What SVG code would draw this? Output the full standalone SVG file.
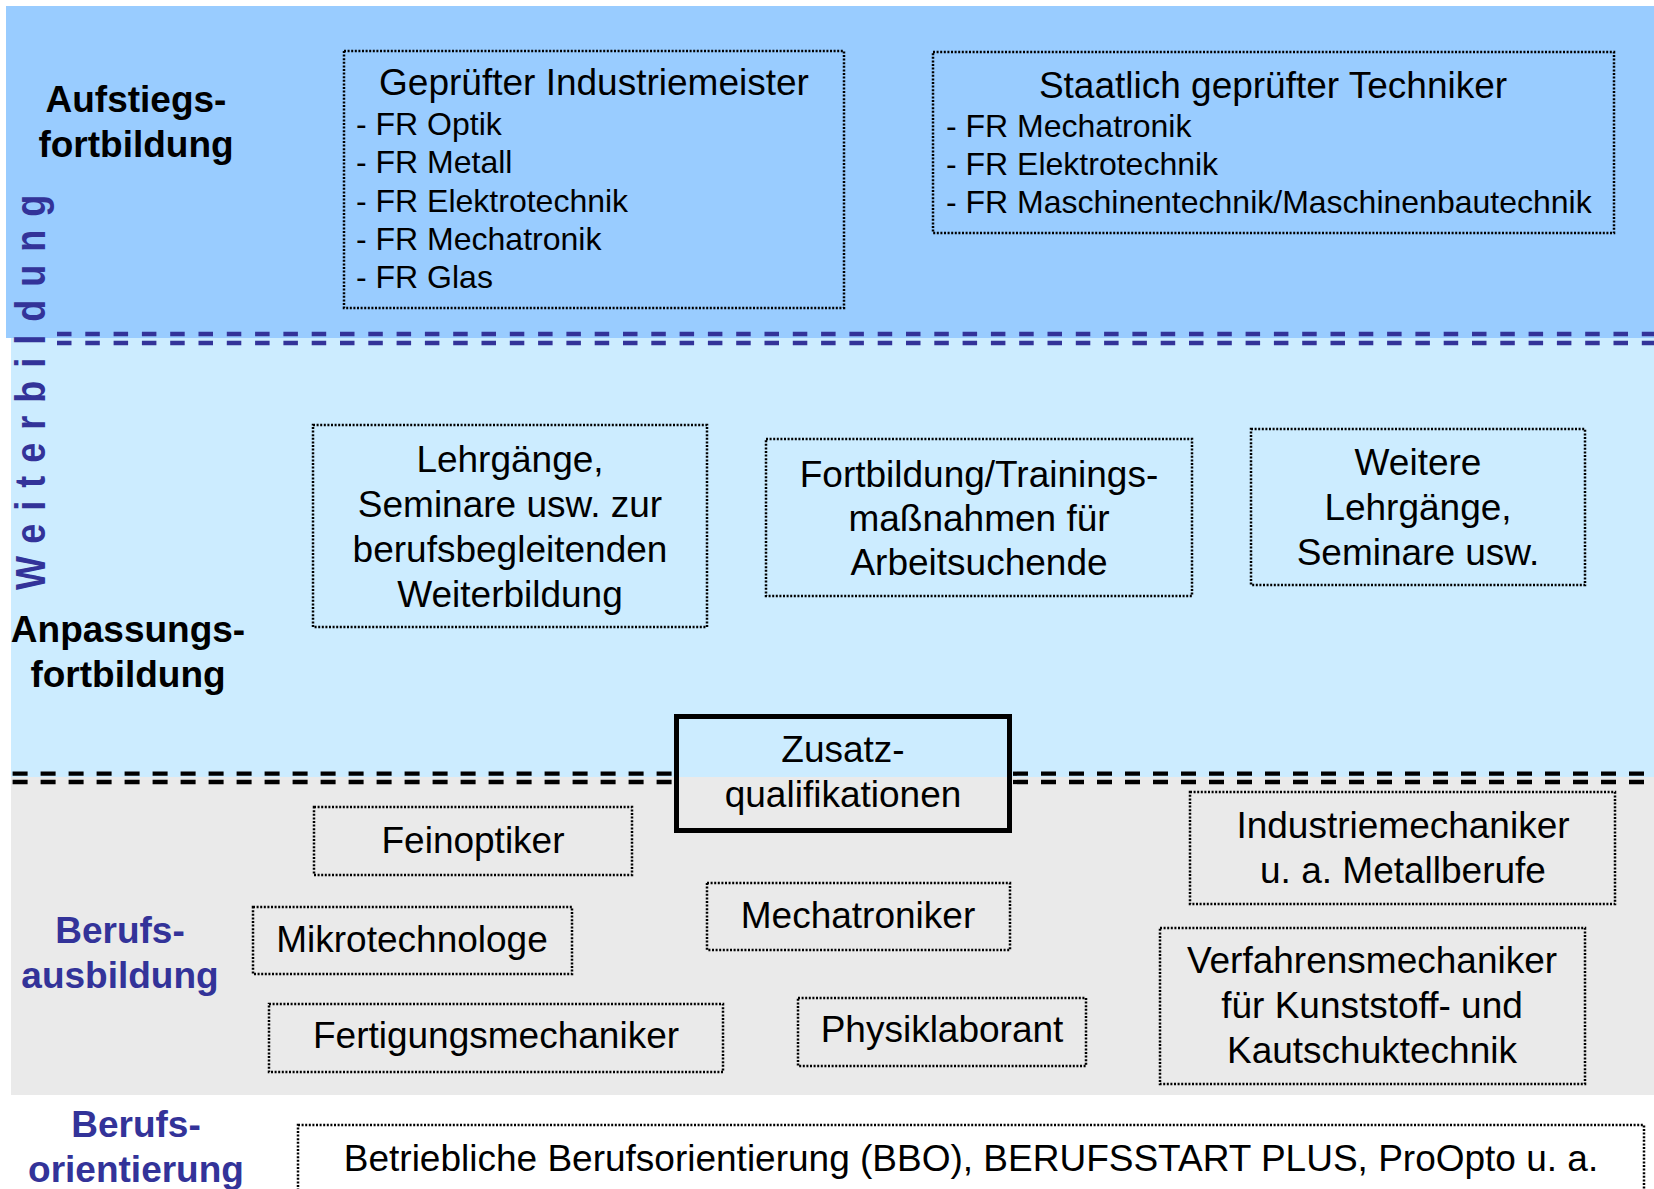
<svg xmlns="http://www.w3.org/2000/svg" width="1654" height="1189" viewBox="0 0 1654 1189">
<style>
text{font-family:"Liberation Sans",Arial,Helvetica,sans-serif;fill:#000}
.t{font-size:37px;text-anchor:middle}
.l{font-size:32px}
.h{font-size:37px;font-weight:bold;text-anchor:middle}
.b{fill:#333399}
.box{fill:none;stroke:#000;stroke-width:2.5;stroke-dasharray:2 1.6}
.sepb{stroke:#333399;stroke-width:4.3;stroke-dasharray:14.5 13.8;fill:none}
.sepk{stroke:#000;stroke-width:4.3;stroke-dasharray:15 13;fill:none}
</style>
<g id="bands">
<rect x="6" y="6" width="1648" height="332" fill="#99CCFF"/>
<rect x="11" y="338" width="1643" height="439" fill="#CCECFF"/>
<rect x="11" y="777" width="1643" height="318" fill="#EAEAEA"/>
</g>
<g id="connectors">
<line class="sepb" x1="57" y1="334" x2="1654" y2="334"/>
<line class="sepb" x1="57" y1="343" x2="1654" y2="343"/>
<line class="sepk" x1="12.6" y1="773.7" x2="674" y2="773.7"/>
<line class="sepk" x1="12.6" y1="782" x2="674" y2="782"/>
<line class="sepk" x1="1013" y1="773.7" x2="1654" y2="773.7"/>
<line class="sepk" x1="1013" y1="782" x2="1654" y2="782"/>
</g>
<g id="labels">
<text class="b" font-size="36" font-weight="bold" letter-spacing="13" transform="translate(45,590) rotate(-90) scale(1,1.16)">Weiterbildung</text>
<text class="h" x="136" y="112">Aufstiegs-</text>
<text class="h" x="136" y="157">fortbildung</text>
<text class="h" x="128" y="642">Anpassungs-</text>
<text class="h" x="128" y="687">fortbildung</text>
<text class="h b" x="120" y="943">Berufs-</text>
<text class="h b" x="120" y="988">ausbildung</text>
<text class="h b" x="136" y="1137">Berufs-</text>
<text class="h b" x="136" y="1182">orientierung</text>
</g>
<g id="industriemeister">
<rect class="box" x="344" y="51" width="500" height="257"/>
<text class="t" x="594" y="95">Geprüfter Industriemeister</text>
<text class="l" x="356" y="135">- FR Optik</text>
<text class="l" x="356" y="173">- FR Metall</text>
<text class="l" x="356" y="212">- FR Elektrotechnik</text>
<text class="l" x="356" y="250">- FR Mechatronik</text>
<text class="l" x="356" y="288">- FR Glas</text>
</g>
<g id="techniker">
<rect class="box" x="933" y="52" width="681" height="181"/>
<text class="t" x="1273" y="98">Staatlich geprüfter Techniker</text>
<text class="l" x="946" y="137">- FR Mechatronik</text>
<text class="l" x="946" y="175">- FR Elektrotechnik</text>
<text class="l" x="946" y="213">- FR Maschinentechnik/Maschinenbautechnik</text>
</g>
<g id="lehrgaenge">
<rect class="box" x="313" y="425" width="394" height="202"/>
<text class="t" x="510" y="472">Lehrgänge,</text>
<text class="t" x="510" y="517">Seminare usw. zur</text>
<text class="t" x="510" y="562">berufsbegleitenden</text>
<text class="t" x="510" y="607">Weiterbildung</text>
</g>
<g id="fortbildung">
<rect class="box" x="766" y="439" width="426" height="157"/>
<text class="t" x="979" y="487">Fortbildung/Trainings-</text>
<text class="t" x="979" y="531">maßnahmen für</text>
<text class="t" x="979" y="575">Arbeitsuchende</text>
</g>
<g id="weitere">
<rect class="box" x="1251" y="429" width="334" height="156"/>
<text class="t" x="1418" y="475">Weitere</text>
<text class="t" x="1418" y="520">Lehrgänge,</text>
<text class="t" x="1418" y="565">Seminare usw.</text>
</g>
<g id="zusatz">
<rect x="676.5" y="716.5" width="333" height="114" fill="none" stroke="#000" stroke-width="5"/>
<text class="t" x="843" y="762">Zusatz-</text>
<text class="t" x="843" y="807">qualifikationen</text>
</g>
<g id="feinoptiker">
<rect class="box" x="314" y="807" width="318" height="68"/>
<text class="t" x="473" y="853">Feinoptiker</text>
</g>
<g id="mikrotechnologe">
<rect class="box" x="253" y="907" width="319" height="67"/>
<text class="t" x="412" y="952">Mikrotechnologe</text>
</g>
<g id="fertigungsmechaniker">
<rect class="box" x="269" y="1004" width="454" height="68"/>
<text class="t" x="496" y="1048">Fertigungsmechaniker</text>
</g>
<g id="mechatroniker">
<rect class="box" x="707" y="883" width="303" height="67"/>
<text class="t" x="858" y="928">Mechatroniker</text>
</g>
<g id="physiklaborant">
<rect class="box" x="798" y="998" width="288" height="68"/>
<text class="t" x="942" y="1042">Physiklaborant</text>
</g>
<g id="industriemechaniker">
<rect class="box" x="1190" y="792" width="425" height="112"/>
<text class="t" x="1403" y="838">Industriemechaniker</text>
<text class="t" x="1403" y="883">u. a. Metallberufe</text>
</g>
<g id="verfahrensmechaniker">
<rect class="box" x="1160" y="928" width="425" height="156"/>
<text class="t" x="1372" y="973">Verfahrensmechaniker</text>
<text class="t" x="1372" y="1018">für Kunststoff- und</text>
<text class="t" x="1372" y="1063">Kautschuktechnik</text>
</g>
<g id="bbo">
<rect class="box" x="298" y="1125" width="1346" height="80"/>
<text class="t" x="971" y="1171">Betriebliche Berufsorientierung (BBO), BERUFSSTART PLUS, ProOpto u. a.</text>
</g>
</svg>
